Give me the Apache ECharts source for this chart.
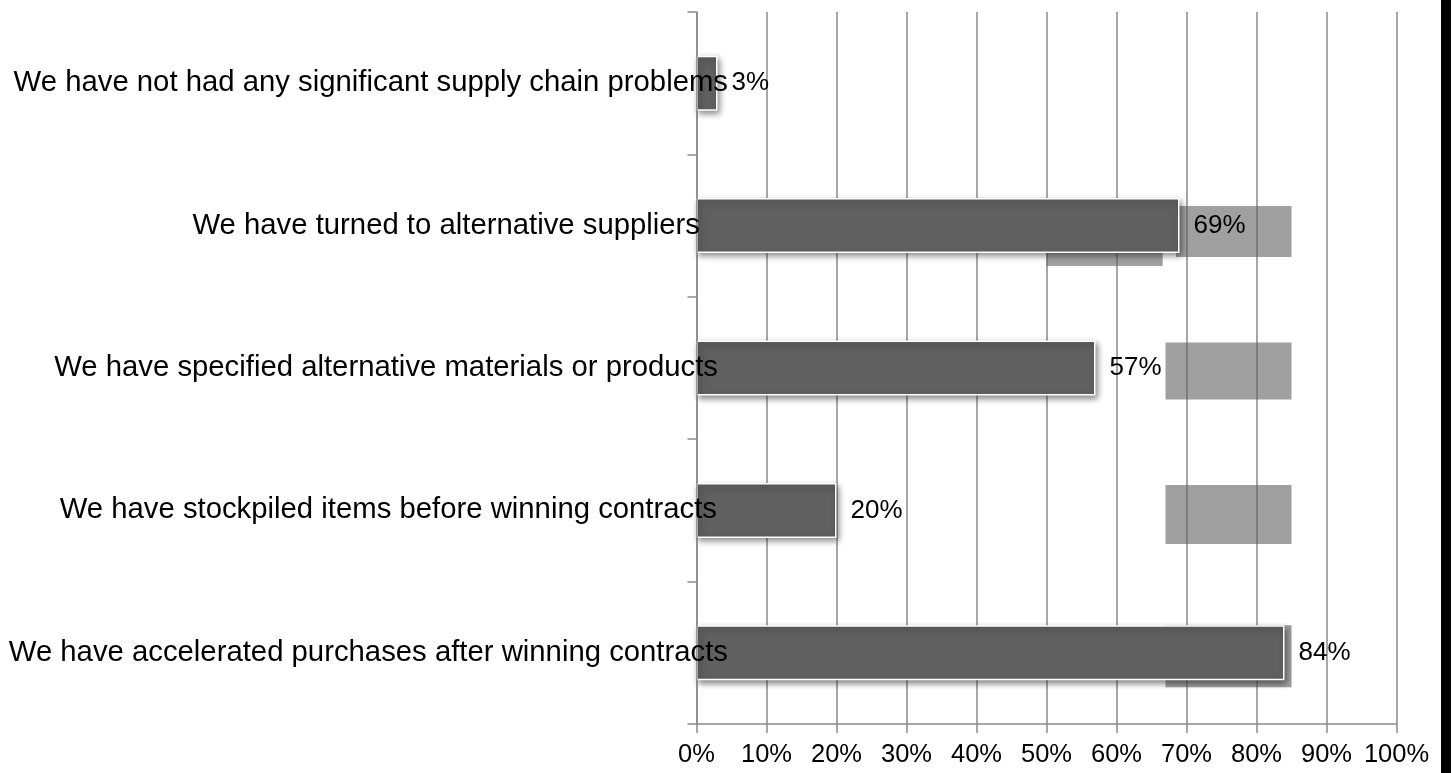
<!DOCTYPE html>
<html>
<head>
<meta charset="utf-8">
<script src="https://cdn.jsdelivr.net/npm/echarts@6/dist/echarts.min.js"></script>
<style>
html,body{margin:0;padding:0;background:#fff;}
#chart{width:1455px;height:773px;}
</style>
</head>
<body>
<div id="chart"></div>
<script>
// Categories listed bottom to top (category axis order)
const categories = [
  'We have accelerated purchases after winning contracts',
  'We have stockpiled items before winning contracts',
  'We have specified alternative materials or products',
  'We have turned to alternative suppliers',
  'We have not had any significant supply chain problems'
];
const values = [84, 20, 57, 69, 3];
const xTicks = [0, 10, 20, 30, 40, 50, 60, 70, 80, 90, 100];

// per-label right padding so label ends match the reference
const labelPad = [0, 11, 10, 28, 0];

const chart = echarts.init(document.getElementById('chart'));
const FONT = '"Liberation Sans", Arial, sans-serif';
const rich = {};
labelPad.forEach((p, i) => {
  rich['l' + i] = { fontSize: 29.3, fontFamily: FONT, color: '#000', padding: [0, p, 0, 0] };
});

chart.setOption({
  backgroundColor: '#fff',
  animation: false,
  grid: { left: 696.5, right: 58.5, top: 12, bottom: 49, containLabel: false },
  xAxis: {
    type: 'value', min: xTicks[0], max: xTicks[xTicks.length - 1], interval: xTicks[1] - xTicks[0], z: 0,
    axisLine: { show: true, lineStyle: { color: '#8a8a8a', width: 1.5 } },
    axisTick: { show: true, length: 9, lineStyle: { color: '#8a8a8a', width: 1.5 } },
    splitLine: { show: true, lineStyle: { color: '#8a8a8a', width: 1.5 } },
    axisLabel: { formatter: '{value}%', fontSize: 25.5, fontFamily: FONT, color: '#000', margin: 18 }
  },
  yAxis: {
    type: 'category', data: categories, z: 3,
    axisLine: { show: true, lineStyle: { color: '#8a8a8a', width: 1.5 } },
    axisTick: { show: true, length: 9, lineStyle: { color: '#8a8a8a', width: 1.5 } },
    splitLine: { show: false },
    axisLabel: {
      margin: -31.5,
      formatter: function (v, i) { return '{l' + i + '|' + v + '}'; },
      rich: rich
    }
  },
  series: [{
    type: 'bar', data: values, barWidth: 55, z: 2,
    itemStyle: {
      color: '#606060', borderColor: '#ffffff', borderWidth: 1.5,
      shadowColor: 'rgba(0,0,0,0.45)', shadowBlur: 6, shadowOffsetX: 2, shadowOffsetY: 3
    },
    label: {
      show: true, position: 'right', distance: 14, formatter: '{c}%',
      fontSize: 26, fontFamily: FONT, color: '#000'
    }
  }]
});

// Decorative shadow-glitch blocks seen in the reference (x in data units, category index, y offsets from bar)
const glitches = [
  [67, 85, 0, 0, 7],
  [67, 85, 1, 2, 6],
  [67, 85, 2, 2, 4],
  [68.5, 85, 3, 8, 4],
  [50, 66.6, 3, 55, 13]
];
const half = 27.5;
const els = glitches.map(g => {
  const p0 = chart.convertToPixel({ gridIndex: 0 }, [g[0], g[2]]);
  const p1 = chart.convertToPixel({ gridIndex: 0 }, [g[1], g[2]]);
  let y0, h;
  if (g[3] > 40) { y0 = p0[1] + half; h = g[4]; }
  else { y0 = p0[1] - half + g[3]; h = 2 * half - g[3] + g[4]; }
  return {
    type: 'rect', z: 1, silent: true,
    shape: { x: p0[0], y: y0, width: p1[0] - p0[0], height: h },
    style: { fill: 'rgba(97,97,97,0.6)' }
  };
});
els.push({
  type: 'rect', z: 5, silent: true,
  shape: { x: 1441, y: 0, width: 10, height: 773 },
  style: { fill: '#000' }
});
chart.setOption({ graphic: { elements: els } });
</script>
</body>
</html>
